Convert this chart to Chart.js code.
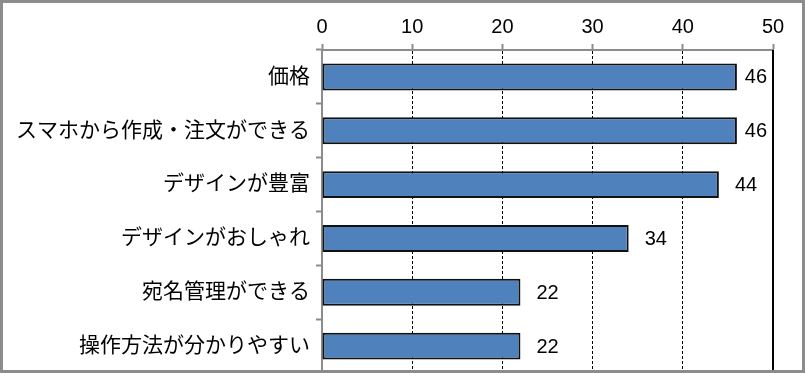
<!DOCTYPE html>
<html>
<head>
<meta charset="utf-8">
<script src="https://cdn.jsdelivr.net/npm/chart.js@4"></script>
<style>
  html, body { margin: 0; padding: 0; background: #fff; }
  canvas { display: block; }
</style>
</head>
<body>
<canvas id="chart" width="805" height="373"></canvas>
<script>
const categories = ['価格', 'スマホから作成・注文ができる', 'デザインが豊富', 'デザインがおしゃれ', '宛名管理ができる', '操作方法が分かりやすい'];
const values = [46, 46, 44, 34, 22, 22];
const axisMin = 0;
const axisMax = 50;
const axisStep = 10;

const FONT = "'Liberation Sans', 'Noto Sans CJK JP', sans-serif";

// value labels at the end of each bar, pulled back inside the plot when they'd overflow
const valueLabels = {
    id: 'valueLabels',
    afterDatasetsDraw(chart) {
        const ctx = chart.ctx;
        const meta = chart.getDatasetMeta(0);
        const right = chart.chartArea.right;
        ctx.save();
        ctx.font = '20px ' + FONT;
        ctx.fillStyle = '#000';
        ctx.textAlign = 'left';
        ctx.textBaseline = 'middle';
        meta.data.forEach((bar, i) => {
            const txt = String(values[i]);
            const w = ctx.measureText(txt).width;
            const x = Math.min(bar.x + 16, right - w - 6);
            ctx.fillText(txt, x, bar.y + 1);
        });
        ctx.restore();
    }
};

// right plot edge + outer frame
const frame = {
    id: 'frame',
    afterDraw(chart) {
        const ctx = chart.ctx;
        const x = chart.scales.x;
        const area = chart.chartArea;
        ctx.save();
        ctx.strokeStyle = '#000';
        ctx.lineWidth = 2;
        ctx.beginPath();
        const xr = Math.round(x.getPixelForValue(axisMax));
        ctx.moveTo(xr, area.top);
        ctx.lineTo(xr, area.bottom);
        ctx.stroke();
        ctx.strokeStyle = '#8c8c8c';
        ctx.lineWidth = 3;
        ctx.strokeRect(1.5, 1.5, chart.width - 3, chart.height - 3);
        ctx.restore();
    }
};

new Chart(document.getElementById('chart'), {
    type: 'bar',
    data: {
        labels: categories,
        datasets: [{
            data: values,
            backgroundColor: '#4F81BD',
            borderColor: '#111',
            borderWidth: 2,
            borderSkipped: false,
            categoryPercentage: 1,
            barPercentage: 0.5
        }]
    },
    options: {
        indexAxis: 'y',
        responsive: false,
        animation: false,
        layout: { padding: { left: 0, right: 32, top: 0, bottom: 0 } },
        plugins: {
            legend: { display: false },
            tooltip: { enabled: false }
        },
        scales: {
            x: {
                position: 'top',
                min: axisMin,
                max: axisMax,
                ticks: { stepSize: axisStep, color: '#000', font: { family: FONT, size: 20 }, padding: 5 },
                grid: {
                    color: ctx => (ctx.tick && (ctx.tick.value === axisMin || ctx.tick.value === axisMax)) ? 'rgba(0,0,0,0)' : '#000',
                    lineWidth: 1,
                    tickColor: '#8c8c8c',
                    tickLength: 6,
                    tickWidth: 2
                },
                border: { color: '#8c8c8c', width: 2, dash: [3, 2] },
                afterFit(s) { s.height = 50; s.paddingLeft = 0; s.paddingRight = 0; }
            },
            y: {
                ticks: { color: '#000', font: { family: FONT, size: 21 }, padding: 6 },
                grid: {
                    offset: true,
                    drawOnChartArea: false,
                    tickColor: '#8c8c8c',
                    tickLength: 6,
                    tickWidth: 2
                },
                border: { color: '#8c8c8c', width: 2 },
                afterFit(s) { s.width = 322; s.paddingTop = 0; s.paddingBottom = 0; }
            }
        }
    },
    plugins: [valueLabels, frame]
});
</script>
</body>
</html>
